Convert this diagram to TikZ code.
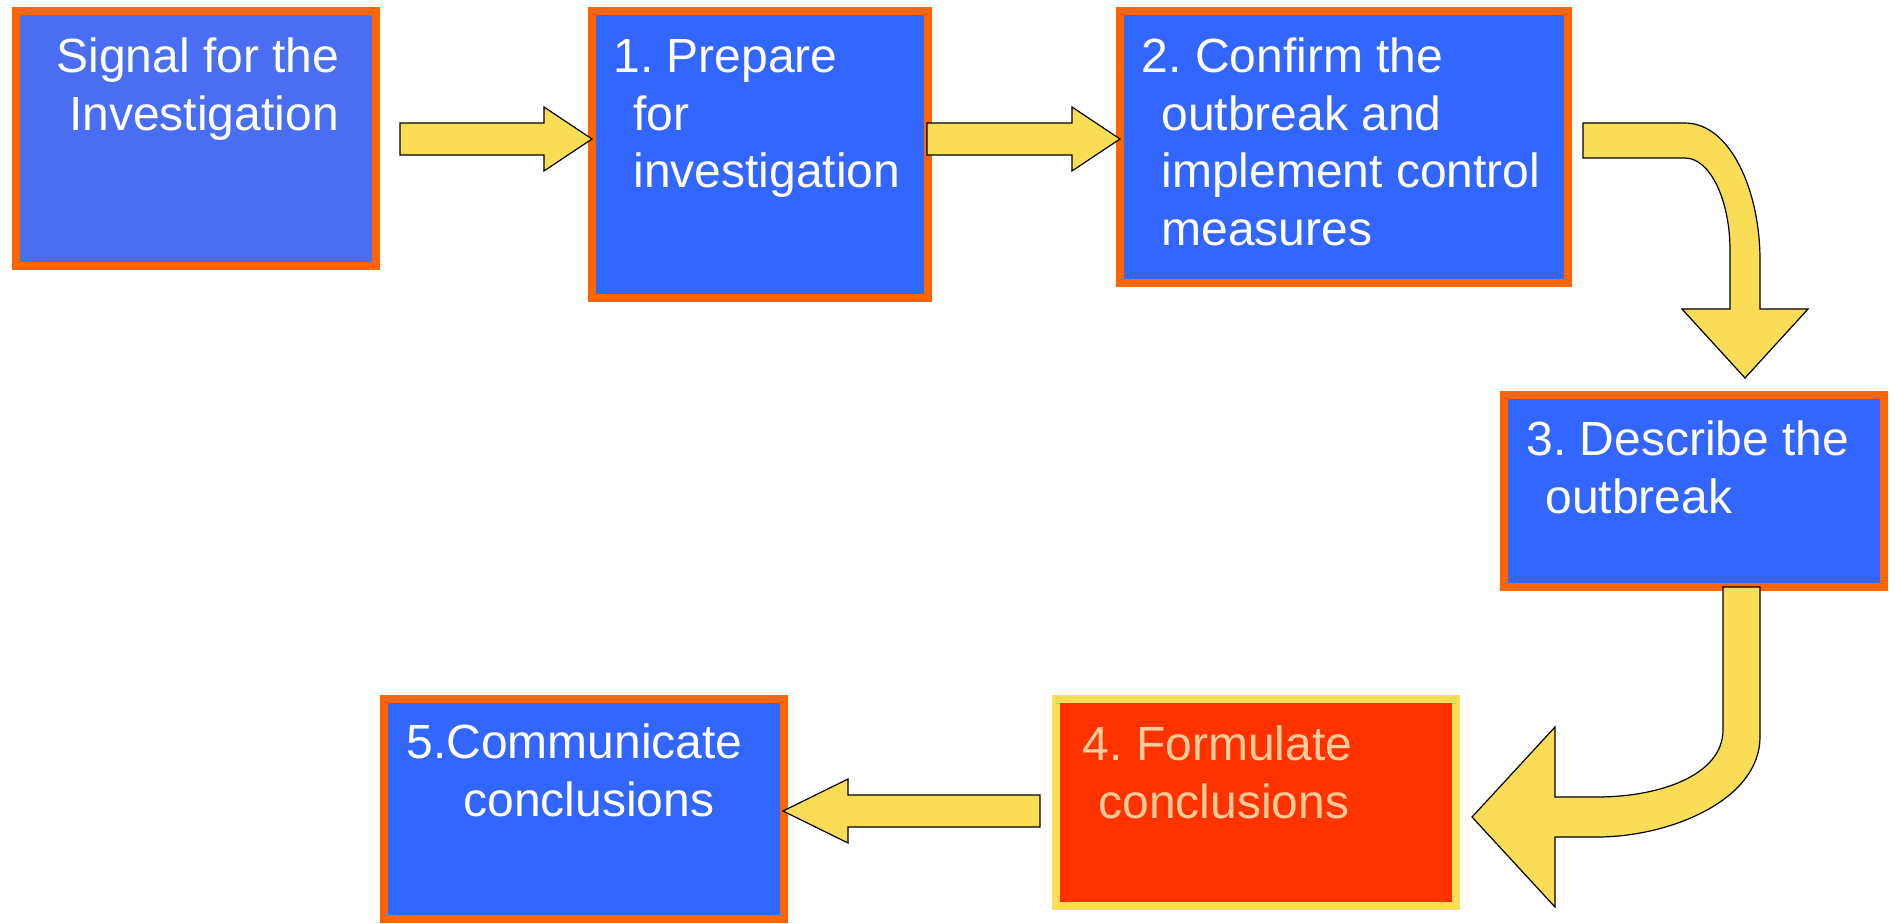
\documentclass[tikz,border=0pt]{standalone}
\usepackage{fontspec}
\setmainfont{Liberation Sans}
\usetikzlibrary{calc}
\frenchspacing

\definecolor{boxblue}{HTML}{3366FF}
\definecolor{signalblue}{HTML}{4A6EF2}
\definecolor{boxorange}{HTML}{FF6600}
\definecolor{arrowyellow}{HTML}{F9DD56}
\definecolor{formred}{HTML}{FF3300}
\definecolor{formtext}{HTML}{FFCC99}

%gerader Blockpfeil: Schaft ab #1, Spitze bei #2, #3 = Versatz des Spitzenansatzes
\newcommand{\flatarrow}[3]{%
	\draw [blockarrow] ($(#1)+(0,-16)$) -- ($(#2)+(#3,-16)$) -- ($(#2)+(#3,-32)$) -- (#2)
		-- ($(#2)+(#3,32)$) -- ($(#2)+(#3,16)$) -- ($(#1)+(0,16)$) -- cycle;}

\begin{document}
\begin{tikzpicture}
				[
				x=0.5pt, y=-0.5pt, font=\fontsize{24}{28.8}\selectfont\frenchspacing,
				box/.style={rectangle, draw=boxorange, line width=4pt, fill=boxblue, inner sep=0pt},
				label/.style={inner sep=0pt, anchor=north west, align=left, text=white},
				blockarrow/.style={draw=black, line width=0.6pt, fill=arrowyellow, line join=miter}
				%Pixelraster des Bildes, y nach unten
				]
				
				\useasboundingbox (0,0) rectangle (1897,923);
				
				%Kästen
				\node [box, fill=signalblue, minimum width=180pt, minimum height=127.5pt] (sig) at (196,138.5) {};
				\node [box, minimum width=168pt, minimum height=143.5pt] (prep) at (760,154.5) {};
				\node [box, minimum width=224pt, minimum height=136pt] (conf) at (1344,147) {};
				\node [box, minimum width=190pt, minimum height=96pt] (desc) at (1694,491) {};
				\node [box, draw=arrowyellow, fill=formred, minimum width=200pt, minimum height=103.5pt] (form) at (1256,802.5) {};
				\node [box, minimum width=200pt, minimum height=110pt] (comm) at (584,809) {};
				
				%Beschriftung
				\node [label, anchor=north, align=center] (sigtxt) at (198,31.7) {\strut Signal for the\\\hspace*{6pt}Investigation};
				\node [label] (preptxt) at (613,31.7) {\strut 1. Prepare\\\hspace*{10pt}for\\\hspace*{10pt}investigation};
				\node [label] (conftxt) at (1141.5,31.7) {\strut 2. Confirm the\\\hspace*{9.75pt}outbreak and\\\hspace*{9.75pt}implement control\\\hspace*{9.75pt}measures};
				\node [label] (desctxt) at (1526,414.7) {\strut 3. Describe the\\\hspace*{9.5pt}outbreak};
				\node [label, text=formtext] (formtxt) at (1082.5,719.7) {\strut 4. Formulate\\\hspace*{7.75pt}conclusions};
				\node [label] (commtxt) at (406,717.7) {\strut 5.Communicate\\\hspace*{28.5pt}conclusions};
				
				%gerade Pfeile
				\coordinate (a01) at ($(sig.east)+(20,0.5)$);
				\coordinate (a01e) at ($(prep.west |- a01)+(4,0)$);
				\coordinate (a12) at ($(prep.east |- a01)+(-5,0)$);
				\coordinate (a12e) at ($(conf.west |- a12)+(4,0)$);
				\coordinate (a45) at ($(form.west)+(-12,8.5)$);
				\coordinate (a45e) at ($(comm.east |- a45)+(-5,0)$);
				\flatarrow{a01}{a01e}{-48}
				\flatarrow{a12}{a12e}{-48}
				\flatarrow{a45}{a45e}{65}
				
				%gebogener Pfeil 2 -> 3
				\coordinate (k23) at ($(conf.east)+(11,-6)$);
				\coordinate (k23e) at ($(desc.north)+(51,-13)$);
				\draw [blockarrow] ($(k23)+(0,-18)$) -- ($(k23)+(102,-18)$)
					.. controls ($(k23)+(147,-18)$) and ($(k23e)+(15,-188)$) .. ($(k23e)+(15,-118)$)
					-- ($(k23e)+(15,-69)$) -- ($(k23e)+(63,-69)$) -- (k23e) -- ($(k23e)+(-63,-69)$) -- ($(k23e)+(-15,-69)$)
					-- ($(k23e)+(-15,-128)$) .. controls ($(k23e)+(-15,-178)$) and ($(k23)+(127,17)$) .. ($(k23)+(102,17)$)
					-- ($(k23)+(0,17)$) -- cycle;
				
				%gebogener Pfeil 3 -> 4
				\coordinate (k34) at ($(desc.south)+(47.5,-4)$);
				\coordinate (k34e) at ($(form.east)+(12,14.5)$);
				\draw [blockarrow] ($(k34)+(-18.5,0)$) -- ($(k34)+(-18.5,143)$)
					.. controls ($(k34)+(-18.5,188)$) and ($(k34e)+(188,-20)$) .. ($(k34e)+(125,-20)$)
					-- ($(k34e)+(83,-20)$) -- ($(k34e)+(83,-90)$) -- (k34e) -- ($(k34e)+(83,90)$) -- ($(k34e)+(83,20)$)
					-- ($(k34e)+(125,20)$) .. controls ($(k34e)+(198,20)$) and ($(k34)+(18.5,213)$) .. ($(k34)+(18.5,150)$)
					-- ($(k34)+(18.5,0)$) -- cycle;
			\end{tikzpicture}
\end{document}
